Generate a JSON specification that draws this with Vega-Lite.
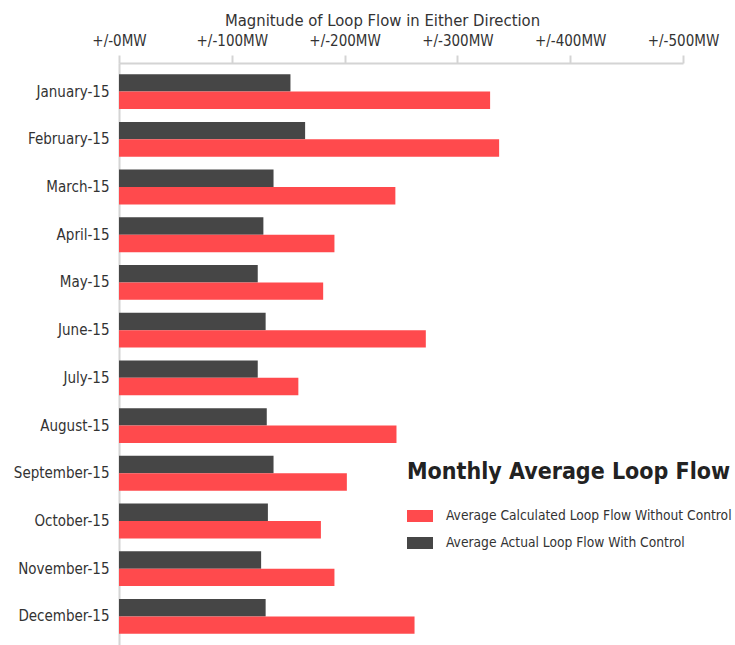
{
  "$schema": "https://vega.github.io/schema/vega-lite/v6.json",
  "width": 564,
  "height": 582,
  "autosize": {"type": "none"},
  "padding": {"left": 119, "top": 63, "right": 52, "bottom": 0},
  "background": "white",
  "config": {"font": "DejaVu Sans Condensed, Liberation Sans, sans-serif", "view": {"stroke": null}},
  "data": {
    "values": [
      {"month": "January-15", "series": "Average Actual Loop Flow With Control", "value": 152},
      {"month": "January-15", "series": "Average Calculated Loop Flow Without Control", "value": 329},
      {"month": "February-15", "series": "Average Actual Loop Flow With Control", "value": 165},
      {"month": "February-15", "series": "Average Calculated Loop Flow Without Control", "value": 337},
      {"month": "March-15", "series": "Average Actual Loop Flow With Control", "value": 137},
      {"month": "March-15", "series": "Average Calculated Loop Flow Without Control", "value": 245},
      {"month": "April-15", "series": "Average Actual Loop Flow With Control", "value": 128},
      {"month": "April-15", "series": "Average Calculated Loop Flow Without Control", "value": 191},
      {"month": "May-15", "series": "Average Actual Loop Flow With Control", "value": 123},
      {"month": "May-15", "series": "Average Calculated Loop Flow Without Control", "value": 181},
      {"month": "June-15", "series": "Average Actual Loop Flow With Control", "value": 130},
      {"month": "June-15", "series": "Average Calculated Loop Flow Without Control", "value": 272},
      {"month": "July-15", "series": "Average Actual Loop Flow With Control", "value": 123},
      {"month": "July-15", "series": "Average Calculated Loop Flow Without Control", "value": 159},
      {"month": "August-15", "series": "Average Actual Loop Flow With Control", "value": 131},
      {"month": "August-15", "series": "Average Calculated Loop Flow Without Control", "value": 246},
      {"month": "September-15", "series": "Average Actual Loop Flow With Control", "value": 137},
      {"month": "September-15", "series": "Average Calculated Loop Flow Without Control", "value": 202},
      {"month": "October-15", "series": "Average Actual Loop Flow With Control", "value": 132},
      {"month": "October-15", "series": "Average Calculated Loop Flow Without Control", "value": 179},
      {"month": "November-15", "series": "Average Actual Loop Flow With Control", "value": 126},
      {"month": "November-15", "series": "Average Calculated Loop Flow Without Control", "value": 191},
      {"month": "December-15", "series": "Average Actual Loop Flow With Control", "value": 130},
      {"month": "December-15", "series": "Average Calculated Loop Flow Without Control", "value": 262}
    ]
  },
  "mark": {"type": "bar"},
  "encoding": {
    "y": {
      "field": "month",
      "type": "nominal",
      "sort": ["January-15", "February-15", "March-15", "April-15", "May-15", "June-15", "July-15", "August-15", "September-15", "October-15", "November-15", "December-15"],
      "scale": {"paddingInner": 0.27, "paddingOuter": 0.235},
      "axis": {
        "title": null,
        "ticks": false,
        "grid": false,
        "domainColor": "#d4d4d4",
        "domainWidth": 2,
        "labelFontSize": 15,
        "labelColor": "#333333",
        "labelPadding": 10
      }
    },
    "yOffset": {
      "field": "series",
      "type": "nominal",
      "sort": ["Average Actual Loop Flow With Control", "Average Calculated Loop Flow Without Control"],
      "scale": {"paddingInner": 0}
    },
    "x": {
      "field": "value",
      "type": "quantitative",
      "scale": {"domain": [0, 500]},
      "axis": {
        "orient": "top",
        "values": [0, 100, 200, 300, 400, 500],
        "labelExpr": "'+/-' + datum.value + 'MW'",
        "title": "Magnitude of Loop Flow in Either Direction",
        "titleX": 263,
        "titleFontSize": 16.5,
        "titleFontWeight": "normal",
        "titleColor": "#333333",
        "titlePadding": 5,
        "grid": false,
        "domainColor": "#d4d4d4",
        "domainWidth": 2,
        "tickColor": "#d4d4d4",
        "tickWidth": 2,
        "tickSize": 8,
        "labelFontSize": 15,
        "labelColor": "#333333",
        "labelPadding": 7,
        "labelFlush": false
      }
    },
    "color": {
      "field": "series",
      "type": "nominal",
      "scale": {
        "domain": ["Average Calculated Loop Flow Without Control", "Average Actual Loop Flow With Control"],
        "range": ["#ff4a4d", "#464646"]
      },
      "legend": {
        "orient": "none",
        "legendX": 288,
        "legendY": 398,
        "title": "Monthly Average Loop Flow",
        "titleFontSize": 23,
        "titleFontWeight": "bold",
        "titleColor": "#222222",
        "titlePadding": 19,
        "titleLimit": 400,
        "labelFontSize": 13.7,
        "labelColor": "#333333",
        "labelLimit": 400,
        "labelOffset": 13,
        "rowPadding": 7,
        "symbolType": "M-1,-0.46H1V0.46H-1Z",
        "symbolSize": 676,
        "symbolStrokeWidth": 0
      }
    }
  }
}
